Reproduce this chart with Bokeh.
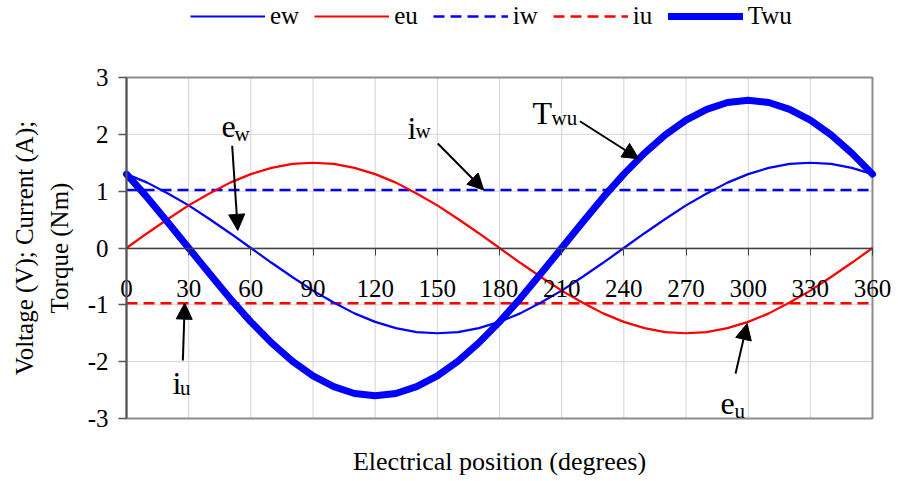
import math
from bokeh.plotting import figure
from bokeh.models import (ColumnDataSource, Legend, LegendItem, Arrow, NormalHead,
                          Range1d, PrintfTickFormatter, Label)
from bokeh.core.properties import value
from bokeh.embed import file_html
from bokeh.resources import INLINE

# ---------------- data ----------------
position = [0, 10, 20, 30, 40, 50, 60, 70, 80, 90, 100, 110, 120, 130, 140, 150,
            160, 170, 180, 190, 200, 210, 220, 230, 240, 250, 260, 270, 280, 290,
            300, 310, 320, 330, 340, 350, 360]
ew = [1.30, 1.15, 0.96, 0.75, 0.51, 0.26, 0.00, -0.26, -0.51, -0.75, -0.96, -1.15,
      -1.30, -1.41, -1.48, -1.50, -1.48, -1.41, -1.30, -1.15, -0.96, -0.75, -0.51,
      -0.26, 0.00, 0.26, 0.51, 0.75, 0.96, 1.15, 1.30, 1.41, 1.48, 1.50, 1.48, 1.41, 1.30]
eu = [0.00, 0.26, 0.51, 0.75, 0.96, 1.15, 1.30, 1.41, 1.48, 1.50, 1.48, 1.41, 1.30,
      1.15, 0.96, 0.75, 0.51, 0.26, 0.00, -0.26, -0.51, -0.75, -0.96, -1.15, -1.30,
      -1.41, -1.48, -1.50, -1.48, -1.41, -1.30, -1.15, -0.96, -0.75, -0.51, -0.26, 0.00]
twu = [1.30, 0.89, 0.45, 0.00, -0.45, -0.89, -1.30, -1.67, -1.99, -2.25, -2.44, -2.56,
       -2.60, -2.56, -2.44, -2.25, -1.99, -1.67, -1.30, -0.89, -0.45, 0.00, 0.45, 0.89,
       1.30, 1.67, 1.99, 2.25, 2.44, 2.56, 2.60, 2.56, 2.44, 2.25, 1.99, 1.67, 1.30]
current_pos = [0, 360]
iw = [1.02, 1.02]
iu = [-0.97, -0.97]

x_ticks = [0, 30, 60, 90, 120, 150, 180, 210, 240, 270, 300, 330, 360]
y_ticks = [-3, -2, -1, 0, 1, 2, 3]

series_names = ["ew", "eu", "iw", "iu", "Twu"]
x_title = "Electrical position (degrees)"
y_title_1 = "Voltage (V); Current (A);"
y_title_2 = "Torque (Nm)"

# annotation labels (main letter + subscript) and arrows, in data units
ann_main = ["e", "i", "T", "i", "e"]
ann_main_x = [45.8, 135.6, 195.9, 22.2, 286.7]
ann_main_y = [2.14, 2.12, 2.37, -2.38, -2.74]
ann_sub = ["w", "w", "wu", "u", "u"]
ann_sub_x = [52.1, 139.5, 205.1, 25.8, 293.4]
ann_sub_y = [2.01, 2.05, 2.28, -2.47, -2.86]
arr_x0 = [51.0, 150.2, 218.8, 27.2, 293.9]
arr_y0 = [1.80, 1.84, 2.23, -1.98, -2.21]
arr_x1 = [53.7, 172.4, 247.2, 28.1, 299.5]
arr_y1 = [0.31, 1.02, 1.57, -0.97, -1.33]

FONT = "Liberation Serif"

# ---------------- layout constants (pixels) ----------------
W, H = 898, 481
PLOT_L, PLOT_R, PLOT_T, PLOT_B = 126, 872, 77, 418

x0, x1 = x_ticks[0], x_ticks[-1]
y0, y1 = y_ticks[0], y_ticks[-1]
xs = (PLOT_R - PLOT_L) / (x1 - x0)
ys = (PLOT_B - PLOT_T) / (y1 - y0)
x_range = Range1d(x0 - PLOT_L / xs, x1 + (W - PLOT_R) / xs)
y_range = Range1d(y0 - (H - PLOT_B) / ys, y1 + PLOT_T / ys)

# the frame covers the whole canvas so that nothing gets clipped
p = figure(frame_width=W, frame_height=H, x_range=x_range, y_range=y_range,
           output_backend="svg", toolbar_location=None,
           min_border_left=0, min_border_top=0, min_border_right=0,
           min_border_bottom=0)
p.background_fill_color = "white"
p.border_fill_color = "white"
p.outline_line_color = None
p.grid.visible = False

# grid lines and plot-area box
p.segment(x0=x_ticks, y0=[y0] * len(x_ticks), x1=x_ticks, y1=[y1] * len(x_ticks),
          line_color="#d4d4d4", line_width=1, level="underlay")
p.segment(x0=[x0] * len(y_ticks), y0=y_ticks, x1=[x1] * len(y_ticks), y1=y_ticks,
          line_color="#d4d4d4", line_width=1, level="underlay")
p.quad(left=[x0], right=[x1], bottom=[y0], top=[y1], fill_color=None,
       line_color="#8c8c8c", line_width=2, level="underlay")

# x axis through zero
xa = p.xaxis[0]
xa.fixed_location = 0
xa.bounds = (x0, x1)
xa.ticker = x_ticks
xa.formatter = PrintfTickFormatter(format="%d")
xa.axis_line_color = "#404040"
xa.axis_line_width = 1.5
xa.major_tick_line_color = "#404040"
xa.major_tick_out = 7
xa.major_tick_in = 0
xa.minor_tick_out = 0
xa.minor_tick_in = 0
xa.major_label_text_font = FONT
xa.major_label_text_font_size = "25px"
xa.major_label_text_color = "black"
xa.major_label_standoff = 25

ya = p.yaxis[0]
ya.fixed_location = x0
ya.bounds = (y0, y1)
ya.ticker = y_ticks
ya.formatter = PrintfTickFormatter(format="%d")
ya.axis_line_color = "#555555"
ya.axis_line_width = 2
ya.major_tick_line_color = "#555555"
ya.major_tick_line_width = 1.5
ya.major_tick_out = 8
ya.major_tick_in = 0
ya.minor_tick_out = 0
ya.minor_tick_in = 0
ya.major_label_text_font = FONT
ya.major_label_text_font_size = "25px"
ya.major_label_text_color = "black"
ya.major_label_standoff = 10

# series
src = ColumnDataSource(dict(position=position, ew=ew, eu=eu, twu=twu))
isrc = ColumnDataSource(dict(position=current_pos, iw=iw, iu=iu))

r_iw = p.line("position", "iw", source=isrc, line_color="#0000ff", line_width=2.5,
              line_dash="11 6")
r_iu = p.line("position", "iu", source=isrc, line_color="#ff0000", line_width=2.5,
              line_dash="11 6")
r_ew = p.line("position", "ew", source=src, line_color="#0000ff", line_width=2.2)
r_eu = p.line("position", "eu", source=src, line_color="#ff0000", line_width=2.2)
r_twu = p.line("position", "twu", source=src, line_color="#0000ff", line_width=7,
               line_cap="round", line_join="round")

legend = Legend(items=[LegendItem(label=series_names[0], renderers=[r_ew]),
                       LegendItem(label=series_names[1], renderers=[r_eu]),
                       LegendItem(label=series_names[2], renderers=[r_iw]),
                       LegendItem(label=series_names[3], renderers=[r_iu]),
                       LegendItem(label=series_names[4], renderers=[r_twu])],
                orientation="horizontal", location=(190, H - 30),
                glyph_width=75, glyph_height=20, label_standoff=5, spacing=15,
                padding=0, margin=0, border_line_alpha=0, background_fill_alpha=0,
                label_text_font=FONT, label_text_font_size="25px",
                label_text_color="black", label_height=20)
p.add_layout(legend)

# curve annotations
asrc = ColumnDataSource(dict(x=ann_main_x, y=ann_main_y, t=ann_main))
ssrc = ColumnDataSource(dict(x=ann_sub_x, y=ann_sub_y, t=ann_sub))
p.text("x", "y", text="t", source=asrc, text_font=value(FONT), text_font_size="32px",
       text_align="left", text_baseline="alphabetic", text_color="black")
p.text("x", "y", text="t", source=ssrc, text_font=value(FONT), text_font_size="21px",
       text_align="left", text_baseline="alphabetic", text_color="black")

arsrc = ColumnDataSource(dict(x0=arr_x0, y0=arr_y0, x1=arr_x1, y1=arr_y1))
p.add_layout(Arrow(x_start="x0", y_start="y0", x_end="x1", y_end="y1", source=arsrc,
                   line_color="black", line_width=2,
                   end=NormalHead(size=16, fill_color="black", line_color="black",
                                  line_width=1)))

# axis titles
p.add_layout(Label(x=(PLOT_L + PLOT_R) / 2, y=H - 461, x_units="screen",
                   y_units="screen", text=x_title, text_font=FONT,
                   text_font_size="26px", text_align="center",
                   text_baseline="middle", text_color="black"))
mid_y = H - (PLOT_T + PLOT_B) / 2
p.add_layout(Label(x=24, y=mid_y, x_units="screen", y_units="screen",
                   angle=math.pi / 2, text=y_title_1, text_font=FONT,
                   text_font_size="25px", text_align="center",
                   text_baseline="alphabetic", text_color="black"))
p.add_layout(Label(x=59, y=mid_y, x_units="screen", y_units="screen",
                   angle=math.pi / 2, text=y_title_2, text_font=FONT,
                   text_font_size="25px", text_align="center",
                   text_baseline="alphabetic", text_color="black"))

open("out.html", "w").write(file_html(p, INLINE))
